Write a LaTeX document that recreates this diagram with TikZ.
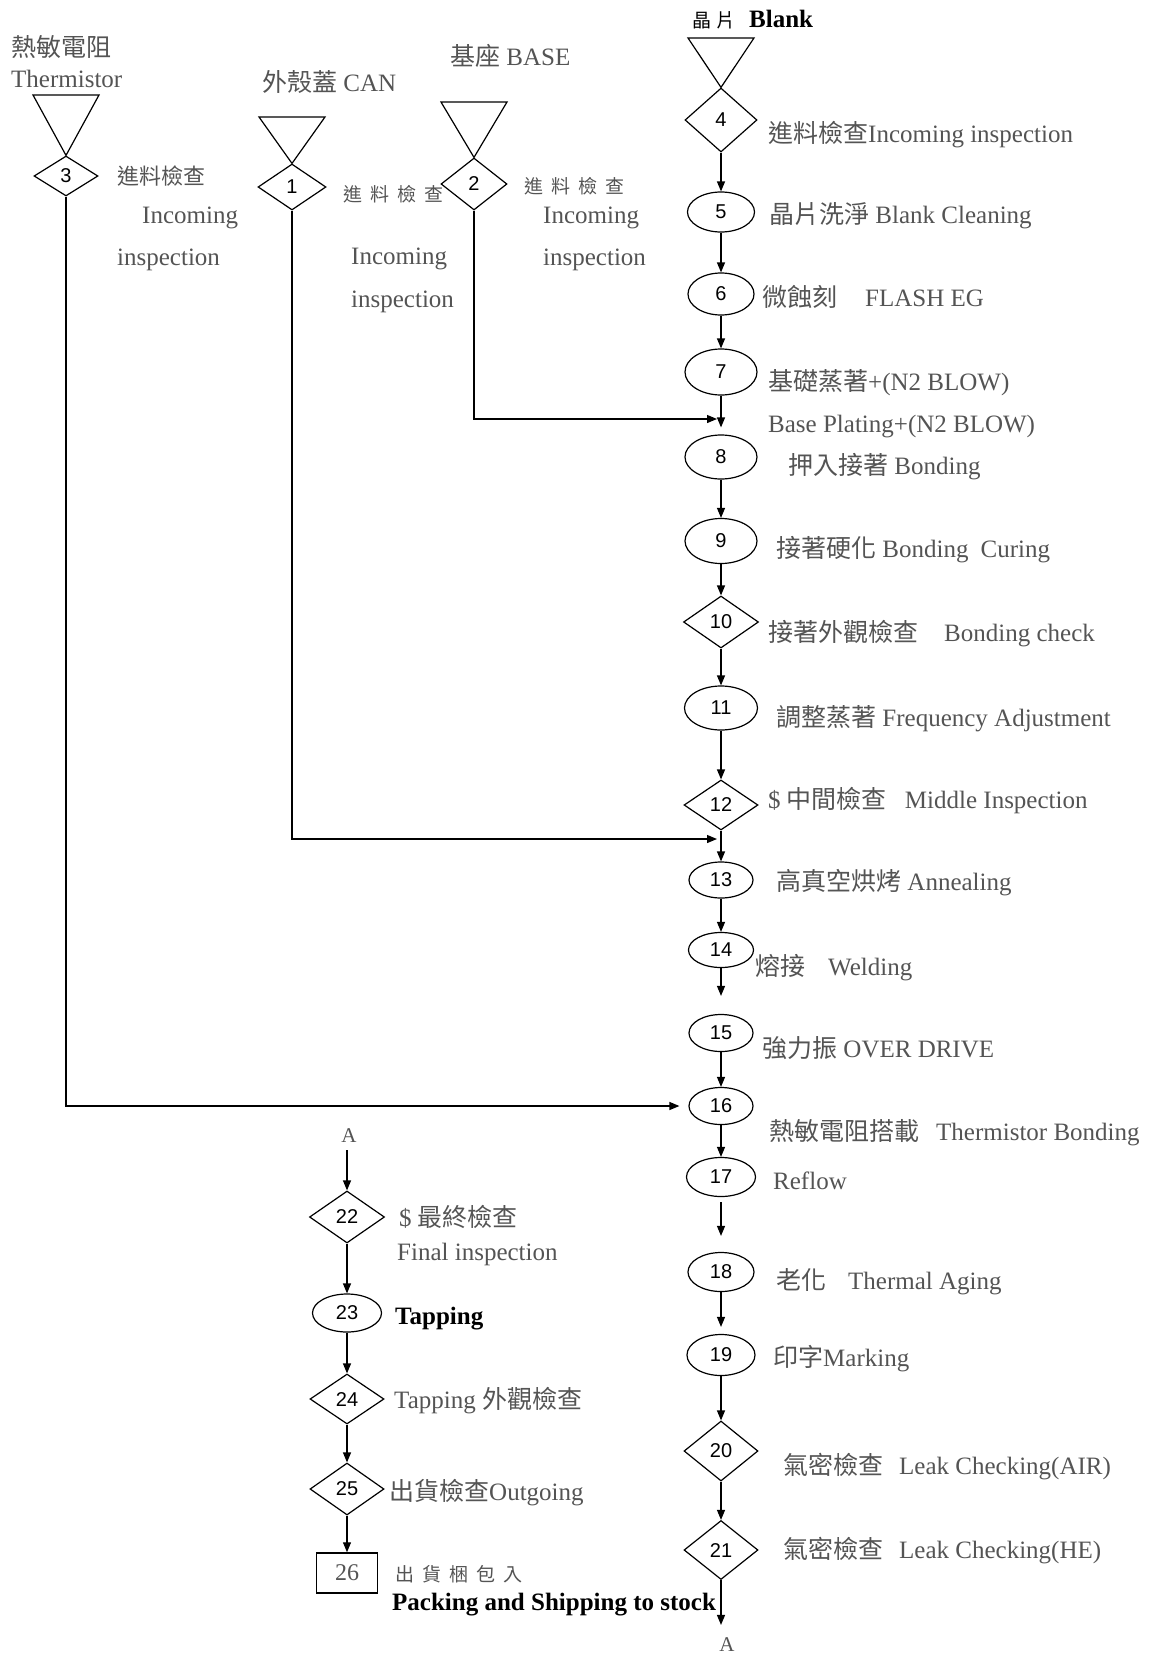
\documentclass[tikz,border=0pt]{standalone}
\usepackage{fontspec}
\setmainfont{Liberation Serif}
\newfontfamily\zhfont{Noto Sans CJK TC}
\newfontfamily\numfont{Liberation Sans}
\newcommand\zh[1]{{\zhfont #1}}
\newcommand\zhsp[1]{{\zhfont\fontsize{19}{22}\selectfont #1}}
\usetikzlibrary{shapes.geometric,arrows.meta}
\definecolor{labgray}{gray}{0.33}
\begin{document}
\begin{tikzpicture}[x=1pt,y=-1pt,
  arr/.style={-{Triangle[length=10pt,width=8pt]}, line width=1.2pt},
  outl/.style={line width=1.2pt},
  dia/.style={diamond, draw, line width=1.2pt, inner sep=0pt, font=\numfont\fontsize{20}{20}\selectfont},
  ell/.style={ellipse, draw, line width=1.2pt, inner sep=0pt, font=\numfont\fontsize{20}{20}\selectfont},
  boxnode/.style={rectangle, draw, line width=1.5pt, inner sep=0pt, text=labgray, font=\fontsize{24}{24}\selectfont},
  lab/.style={anchor=base west, inner sep=0pt, text=labgray, font=\fontsize{25}{30}\selectfont},
  blk/.style={lab, text=black},
  smalllab/.style={lab, font=\fontsize{22}{26}\selectfont},
  letter/.style={anchor=base, inner sep=0pt, text=labgray, font=\fontsize{21}{21}\selectfont},
]
\useasboundingbox (0,0) rectangle (1149,1654);

% ---------- inputs ----------
\node[dia, minimum width=64, minimum height=40] (d3) at (66,176) {3};
\node[dia, minimum width=68, minimum height=46] (d1) at (292,187) {1};
\node[dia, minimum width=66, minimum height=52] (d2) at (474,184) {2};
\node[dia, minimum width=72, minimum height=64] (d4) at (721,120) {4};
\draw[outl] (33,95) -- (99,95) -- (d3.north) -- cycle;
\draw[outl] (259,117) -- (325,117) -- (d1.north) -- cycle;
\draw[outl] (441,102) -- (507,102) -- (d2.north) -- cycle;
\draw[outl] (688,38) -- (754,38) -- (d4.north) -- cycle;

% ---------- main column ----------
\node[ell, minimum width=67, minimum height=40] (e5) at (721,212) {5};
\node[ell, minimum width=66, minimum height=42] (e6) at (721,294) {6};
\node[ell, minimum width=72, minimum height=46] (e7) at (721,372) {7};
\node[ell, minimum width=72, minimum height=44] (e8) at (721,457) {8};
\node[ell, minimum width=72, minimum height=45] (e9) at (721,541) {9};
\node[dia, minimum width=75, minimum height=52] (d10) at (721,622) {10};
\node[ell, minimum width=73, minimum height=44] (e11) at (721,708) {11};
\node[dia, minimum width=74, minimum height=50] (d12) at (721,805) {12};
\node[ell, minimum width=64, minimum height=36] (e13) at (721,880) {13};
\node[ell, minimum width=65, minimum height=35] (e14) at (721,950) {14};
\node[ell, minimum width=64, minimum height=37] (e15) at (721,1033) {15};
\node[ell, minimum width=64, minimum height=37] (e16) at (721,1106) {16};
\node[ell, minimum width=69, minimum height=39] (e17) at (721,1177) {17};
\node[ell, minimum width=66, minimum height=39] (e18) at (721,1272) {18};
\node[ell, minimum width=68, minimum height=41] (e19) at (721,1355) {19};
\node[dia, minimum width=74, minimum height=60] (d20) at (721,1451) {20};
\node[dia, minimum width=74, minimum height=59] (d21) at (721,1550) {21};
\node[letter] (A2) at (727,1651) {A};

% ---------- lower left column ----------
\node[letter] (A1) at (349,1142) {A};
\node[dia, minimum width=75, minimum height=52] (d22) at (347,1217) {22};
\node[ell, minimum width=69, minimum height=38] (e23) at (347,1313) {23};
\node[dia, minimum width=74, minimum height=50] (d24) at (347,1399) {24};
\node[dia, minimum width=74, minimum height=52] (d25) at (347,1489) {25};
\node[boxnode, minimum width=61, minimum height=40] (b26) at (347,1573) {26};

% ---------- labels: inputs ----------
\node[lab] (tT1) at (11,57) {\zh{熱敏電阻}};
\node[lab] (tT2) at (11,88) {Thermistor};
\node[lab] (tC) at (262,91) {\zh{外殼蓋} CAN};
\node[lab] (tB) at (450,66) {\zh{基座} BASE};
\node[blk] (tW) at (692,28) {\zhsp{晶\hspace{5pt}片}\hspace{14pt}\textbf{Blank}};

\node[smalllab] (l3a) at (117,184) {\zh{進料檢查}};
\node[lab] (l3b) at (142,223) {Incoming};
\node[lab] (l3c) at (117,265) {inspection};

\node[lab] (l1a) at (343,201) {\zhsp{進\hspace{8pt}料\hspace{8pt}檢\hspace{8pt}查}};
\node[lab] (l1b) at (351,264) {Incoming};
\node[lab] (l1c) at (351,307) {inspection};

\node[lab] (l2a) at (524,193) {\zhsp{進\hspace{8pt}料\hspace{8pt}檢\hspace{8pt}查}};
\node[lab] (l2b) at (543,223) {Incoming};
\node[lab] (l2c) at (543,265) {inspection};

% ---------- labels: main column ----------
\node[lab] (t4) at (768,142) {\zh{進料檢查}Incoming inspection};
\node[lab] (t5) at (769,223) {\zh{晶片洗淨} Blank Cleaning};
\node[lab] (t6) at (762,306) {\zh{微蝕刻}\hspace{28pt}FLASH EG};
\node[lab] (t7) at (768,390) {\zh{基礎蒸著}+(N2 BLOW)};
\node[lab] (t7b) at (768,432) {Base Plating+(N2 BLOW)};
\node[lab] (t8) at (788,474) {\zh{押入接著} Bonding};
\node[lab] (t9) at (776,557) {\zh{接著硬化} Bonding\hspace{12pt}Curing};
\node[lab] (t10) at (768,641) {\zh{接著外觀檢查}\hspace{26pt}Bonding check};
\node[lab] (t11) at (776,726) {\zh{調整蒸著} Frequency Adjustment};
\node[lab] (t12) at (768,808) {\$ \zh{中間檢查}\hspace{18pt}Middle Inspection};
\node[lab] (t13) at (776,890) {\zh{高真空烘烤} Annealing};
\node[lab] (t14) at (755,975) {\zh{熔接}\hspace{23pt}Welding};
\node[lab] (t15) at (762,1057) {\zh{強力振} OVER DRIVE};
\node[lab] (t16) at (769,1140) {\zh{熱敏電阻搭載}\hspace{17pt}Thermistor Bonding};
\node[lab] (t17) at (773,1189) {Reflow};
\node[lab] (t18) at (776,1289) {\zh{老化}\hspace{22pt}Thermal Aging};
\node[lab] (t19) at (773,1366) {\zh{印字}Marking};
\node[lab] (t20) at (783,1474) {\zh{氣密檢查}\hspace{16pt}Leak Checking(AIR)};
\node[lab] (t21) at (783,1558) {\zh{氣密檢查}\hspace{16pt}Leak Checking(HE)};

% ---------- labels: lower left ----------
\node[lab] (t22a) at (399,1226) {\$ \zh{最終檢查}};
\node[lab] (t22b) at (397,1260) {Final inspection};
\node[blk] (t23) at (395,1324) {\textbf{Tapping}};
\node[lab] (t24) at (394,1408) {Tapping \zh{外觀檢查}};
\node[lab] (t25) at (389,1500) {\zh{出貨檢查}Outgoing};
\node[lab] (t26a) at (395,1581) {\zhsp{出\hspace{8pt}貨\hspace{8pt}梱\hspace{8pt}包\hspace{8pt}入}};
\node[blk] (t26b) at (392,1610) {\textbf{Packing and Shipping to stock}};

% ---------- connectors ----------
\coordinate (j7) at (717,419);
\coordinate (j12) at (717,839);

\draw[arr] (d4) -- (e5);
\draw[arr] (e5) -- (e6);
\draw[arr] (e6) -- (e7);
\draw[arr, shorten >=7pt] (e7) -- (e8);
\draw[arr] (d2.south) |- (j7);
\draw[arr] (e8) -- (e9);
\draw[arr] (e9) -- (d10);
\draw[arr] (d10) -- (e11);
\draw[arr] (e11) -- (d12);
\draw[arr] (d12) -- (e13);
\draw[arr] (d1.south) |- (j12);
\draw[arr] (e13) -- (e14);
\draw[arr, shorten >=18pt] (e14) -- (e15);
\draw[arr] (e15) -- (e16);
\draw[arr, shorten >=9pt] (d3.south) |- (e16.west);
\draw[arr] (e16) -- (e17);
\draw[arr, shorten <=5pt, shorten >=16pt] (e17) -- (e18);
\draw[arr, shorten >=7pt] (e18) -- (e19);
\draw[arr] (e19) -- (d20);
\draw[arr] (d20) -- (d21);
\draw[arr, shorten >=12pt] (d21.south) -- (d21.south |- A2.north);

\draw[arr, shorten <=8pt] (d22.north |- A1.south) -- (d22.north);
\draw[arr] (d22) -- (e23);
\draw[arr] (e23) -- (d24);
\draw[arr] (d24) -- (d25);
\draw[arr] (d25) -- (b26);
\end{tikzpicture}
\end{document}
